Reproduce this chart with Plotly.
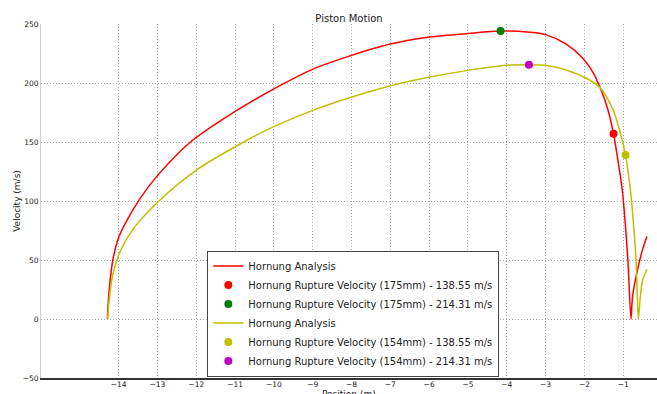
import plotly.graph_objects as go

# Red curve (175mm) - Hornung Analysis
red_x = [-14.29, -14.25, -14.15, -14.0, -13.78, -13.45, -13.0, -12.15, -11.38, -10.0,
         -8.98, -8.04, -7.01, -5.98, -5.0, -4.16, -3.41, -3.0, -2.47, -2.04, -1.78,
         -1.57, -1.40, -1.25, -1.14, -1.03, -0.97, -0.88, -0.80, -0.76, -0.63, -0.50, -0.39]
red_y = [0, 22, 50, 69, 84, 102, 121.5, 150, 168, 195,
         212, 223, 233, 239, 242, 244, 243, 241, 233, 221, 209,
         194, 178, 157, 135, 111, 90, 50, 0, 19, 42, 59, 70]

# Yellow curve (154mm) - Hornung Analysis
yel_x = [-14.28, -14.26, -14.16, -13.95, -13.61, -12.96, -11.98, -10.86, -10.0, -8.98,
         -7.95, -7.01, -5.98, -5.0, -4.01, -3.43, -3.0, -2.47, -1.95, -1.61, -1.27,
         -1.09, -0.94, -0.88, -0.82, -0.76, -0.67, -0.61, -0.56, -0.50, -0.39]
yel_y = [0, 10.5, 36, 58, 77, 100, 126.5, 148.5, 163, 177,
         188.5, 197.5, 205, 210.7, 215, 215.5, 215, 211, 204, 196.5, 178,
         159.5, 139, 126, 111, 90, 50, 0, 19, 33, 42]

# Rupture markers
m175_low = (-1.25, 157)
m175_high = (-4.16, 244)
m154_low = (-0.94, 139)
m154_high = (-3.43, 215.5)

x_ticks = list(range(-14, 0))
y_ticks = [-50, 0, 50, 100, 150, 200, 250]

FONT = "DejaVu Sans"
GRID = dict(showgrid=True, gridcolor="#a8a8a8", griddash="1px,2px", gridwidth=1, zeroline=False)

fig = go.Figure()
fig.add_trace(go.Scatter(x=red_x, y=red_y, mode="lines", name="Hornung Analysis",
                         line=dict(color="#ff0000", width=1.5, shape="spline", smoothing=0.8)))
fig.add_trace(go.Scatter(x=[m175_low[0]], y=[m175_low[1]], mode="markers",
                         name="Hornung Rupture Velocity (175mm) - 138.55 m/s",
                         marker=dict(color="#ff0000", size=8)))
fig.add_trace(go.Scatter(x=[m175_high[0]], y=[m175_high[1]], mode="markers",
                         name="Hornung Rupture Velocity (175mm) - 214.31 m/s",
                         marker=dict(color="#007f00", size=8)))
fig.add_trace(go.Scatter(x=yel_x, y=yel_y, mode="lines", name="Hornung Analysis",
                         line=dict(color="#bfbf00", width=1.5, shape="spline", smoothing=0.8)))
fig.add_trace(go.Scatter(x=[m154_low[0]], y=[m154_low[1]], mode="markers",
                         name="Hornung Rupture Velocity (154mm) - 138.55 m/s",
                         marker=dict(color="#bfbf00", size=8)))
fig.add_trace(go.Scatter(x=[m154_high[0]], y=[m154_high[1]], mode="markers",
                         name="Hornung Rupture Velocity (154mm) - 214.31 m/s",
                         marker=dict(color="#bf00bf", size=8)))

fig.update_layout(
    width=657, height=394,
    margin=dict(l=41, r=0, t=24, b=16, autoexpand=False),
    paper_bgcolor="white", plot_bgcolor="white",
    font=dict(family=FONT, color="#222"),
    title=dict(text="Piston Motion", x=0.5, xref="paper", y=1, yref="container",
               yanchor="top", pad=dict(t=15), automargin=False,
               font=dict(size=10, color="#222")),
    showlegend=True,
    legend=dict(x=0.27, y=0.004, xanchor="left", yanchor="bottom",
                bgcolor="white", bordercolor="#444", borderwidth=1,
                font=dict(size=10, color="#222"), tracegroupgap=0, itemwidth=30),
    xaxis=dict(range=[-16, -0.13], tickvals=x_ticks, automargin=False,
               showline=True, linecolor="#333", linewidth=1.5,
               ticks="", tickfont=dict(size=7.5, color="#222"), ticklabelstandoff=-2,
               **GRID),
    yaxis=dict(range=[-50, 250], tickvals=y_ticks, automargin=False,
               showline=True, linecolor="#cccccc", linewidth=1,
               ticks="", tickfont=dict(size=7.5, color="#222"),
               title=dict(text="Velocity (m/s)", font=dict(size=9, color="#222"), standoff=0),
               **GRID),
    annotations=[dict(text="Position (m)", xref="paper", yref="paper", x=0.5, y=0,
                      xanchor="center", yanchor="top", yshift=-10, showarrow=False,
                      borderpad=0, font=dict(size=9, color="#222"))],
)

fig.write_html("out.html", config={"displayModeBar": False},
               post_script="document.body.style.margin='0';document.body.style.overflow='hidden';")
